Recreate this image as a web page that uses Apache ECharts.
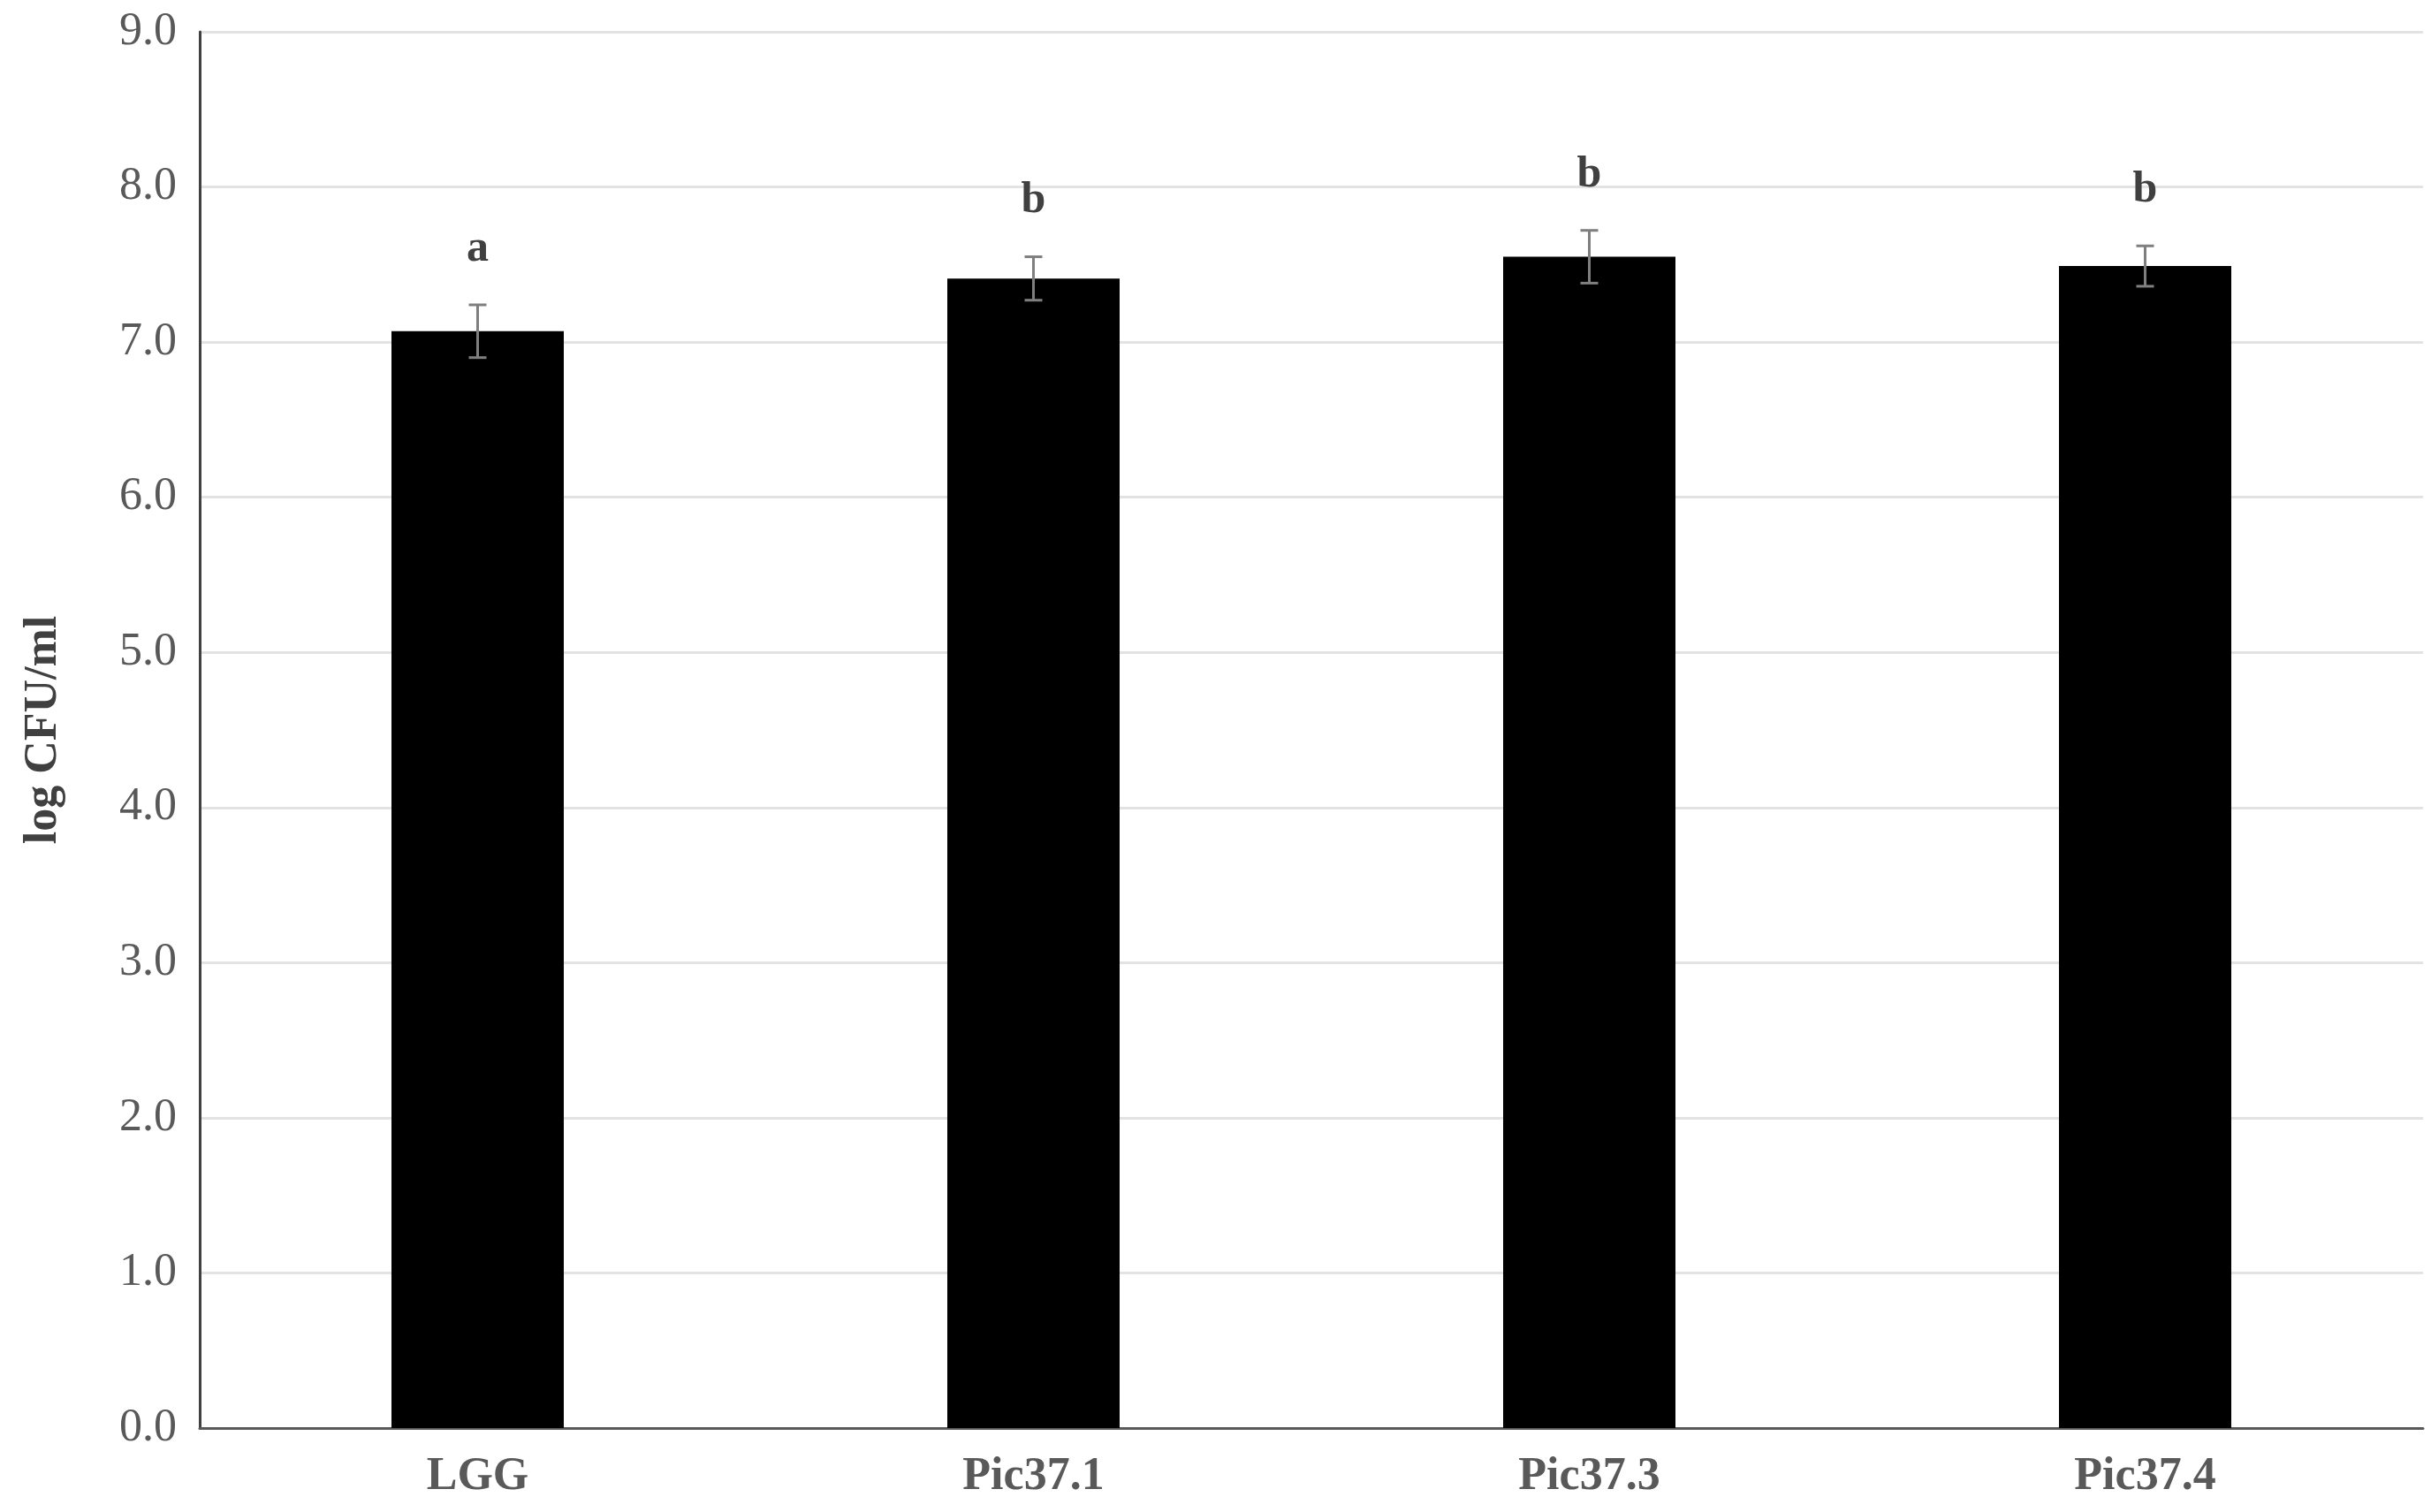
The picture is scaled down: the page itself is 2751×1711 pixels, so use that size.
<!DOCTYPE html><html><head><meta charset="utf-8"><script src="https://cdn.jsdelivr.net/npm/echarts@6/dist/echarts.min.js"></script>
<style>html,body{margin:0;background:#fff}#c{width:2751px;height:1711px}</style></head><body><div id="c"></div><script>
const categories=['LGG','Pic37.1','Pic37.3','Pic37.4'];
const values=[7.07,7.41,7.55,7.49];
const errors=[0.17,0.14,0.17,0.13];
const letters=['a','b','b','b'];
const yTicks=[0,1,2,3,4,5,6,7,8,9];
const F='"Liberation Serif","Times New Roman",serif';
const chart=echarts.init(document.getElementById('c'));
chart.setOption({
 animation:false,
 grid:{left:226,right:9,top:36,bottom:95},
 xAxis:{type:'category',data:categories,axisLine:{lineStyle:{color:'#595959',width:3}},axisTick:{show:false},
  axisLabel:{fontFamily:F,fontWeight:'bold',fontSize:52,color:'#595959',margin:30}},
 yAxis:{type:'value',min:yTicks[0],max:yTicks[yTicks.length-1],interval:1,
  name:'log CFU/ml',nameLocation:'middle',nameGap:150,nameTextStyle:{fontFamily:F,fontWeight:'bold',fontSize:52,color:'#404040'},
  axisLine:{show:true,lineStyle:{color:'#404040',width:3}},axisTick:{show:false},
  splitLine:{lineStyle:{color:'#e3e3e3',width:3}},
  axisLabel:{fontFamily:F,fontSize:52,color:'#595959',margin:26,formatter:v=>v.toFixed(1)}},
 series:[
  {type:'bar',data:values,barWidth:'31%',itemStyle:{color:'#000'}},
  {type:'custom',data:values.map((v,i)=>[i,v,errors[i],letters[i]]),z:10,
   renderItem:(p,api)=>{
    const x=api.value(0),v=api.value(1),e=api.value(2);
    const top=api.coord([x,v+e]),bot=api.coord([x,v-e]);
    const s={stroke:'#7f7f7f',lineWidth:3};
    return {type:'group',children:[
     {type:'line',shape:{x1:top[0],y1:top[1],x2:bot[0],y2:bot[1]},style:s},
     {type:'line',shape:{x1:top[0]-10,y1:top[1],x2:top[0]+10,y2:top[1]},style:s},
     {type:'line',shape:{x1:bot[0]-10,y1:bot[1],x2:bot[0]+10,y2:bot[1]},style:s},
     {type:'text',style:{x:top[0],y:top[1]-38,text:letters[p.dataIndex],fontFamily:F,fontWeight:'bold',fontSize:50,fill:'#404040',align:'center',verticalAlign:'bottom'}}
    ]};
   }}
 ]
});
</script></body></html>
